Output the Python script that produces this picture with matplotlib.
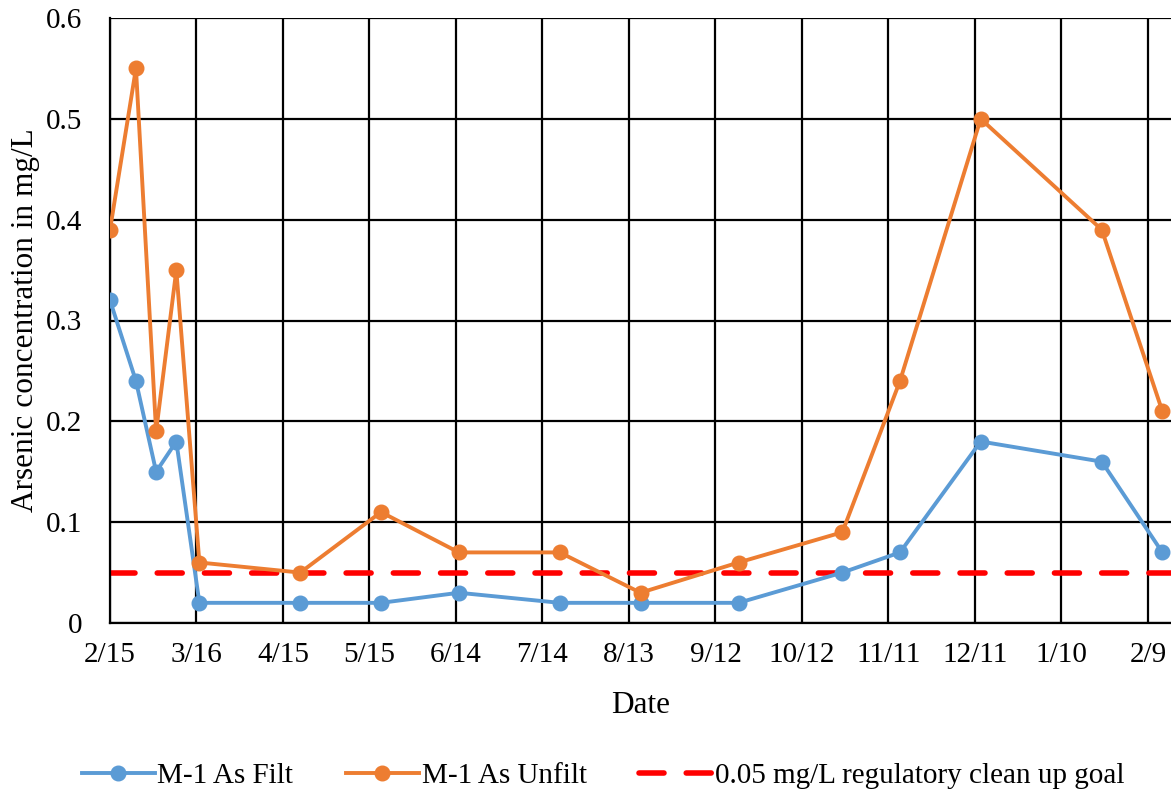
import numpy as np
import pandas as pd
import matplotlib
matplotlib.use("Agg")
import matplotlib.pyplot as plt

plt.rcParams['font.family'] = ['Liberation Serif', 'DejaVu Serif']

# sample dates and values
dates = ["2016-02-15", "2016-02-24", "2016-03-02", "2016-03-09", "2016-03-17",
         "2016-04-21", "2016-05-19", "2016-06-15", "2016-07-20", "2016-08-17",
         "2016-09-20", "2016-10-26", "2016-11-15", "2016-12-13", "2017-01-24",
         "2017-02-14"]
filt = [0.32, 0.24, 0.15, 0.18, 0.02, 0.02, 0.02, 0.03, 0.02, 0.02,
        0.02, 0.05, 0.07, 0.18, 0.16, 0.07]
unfilt = [0.39, 0.55, 0.19, 0.35, 0.06, 0.05, 0.11, 0.07, 0.07, 0.03,
          0.06, 0.09, 0.24, 0.50, 0.39, 0.21]
goal = 0.05

x = pd.to_datetime(dates)
start = pd.Timestamp("2016-02-15")
end = start + pd.Timedelta(days=368)
ticks = pd.date_range(start, periods=13, freq="30D")
tick_labels = [f"{d.month}/{d.day}" for d in ticks]

fig = plt.figure(figsize=(11.71, 7.93), dpi=100)
ax = fig.add_axes([110 / 1171, 170 / 793, 1 - 110 / 1171, 605 / 793])

blue = "#5B9BD5"
orange = "#ED7D31"

ax.plot(x, filt, color=blue, lw=2.8, marker="o", ms=10.5, label="M-1 As Filt", zorder=3)
ax.plot(x, unfilt, color=orange, lw=2.8, marker="o", ms=10.5, label="M-1 As Unfilt", zorder=3)
ax.plot([start, end], [goal, goal], color="red", lw=4, ls=(0, (4.5, 4)),
        dash_capstyle="round", label="0.05 mg/L regulatory clean up goal", zorder=2)

ax.set_xlim(start, end)
ax.set_ylim(0, 0.6)
ax.set_xticks(ticks)
ax.set_xticklabels(tick_labels)
ax.set_yticks(np.arange(0, 0.61, 0.1))
ax.set_yticklabels(["0", "0.1", "0.2", "0.3", "0.4", "0.5", "0.6"])
ax.tick_params(length=0, labelsize=21)
ax.tick_params(axis="x", pad=14)
ax.tick_params(axis="y", pad=20)

ax.grid(True, color="black", lw=1.6)
ax.set_axisbelow(True)
for s in ["top", "right"]:
    ax.spines[s].set_visible(False)
for s in ["left", "bottom"]:
    ax.spines[s].set_linewidth(1.6)

ax.set_xlabel("Date", fontsize=22.5, labelpad=16)
ax.set_ylabel("Arsenic concentration in mg/L", fontsize=22.5, labelpad=4)

fig.legend(loc="center", bbox_to_anchor=(0.515, 0.022), ncol=3, frameon=False,
           fontsize=21, handlelength=2.5, columnspacing=1.8, handletextpad=0.1)

fig.savefig("out.png", dpi=100)
